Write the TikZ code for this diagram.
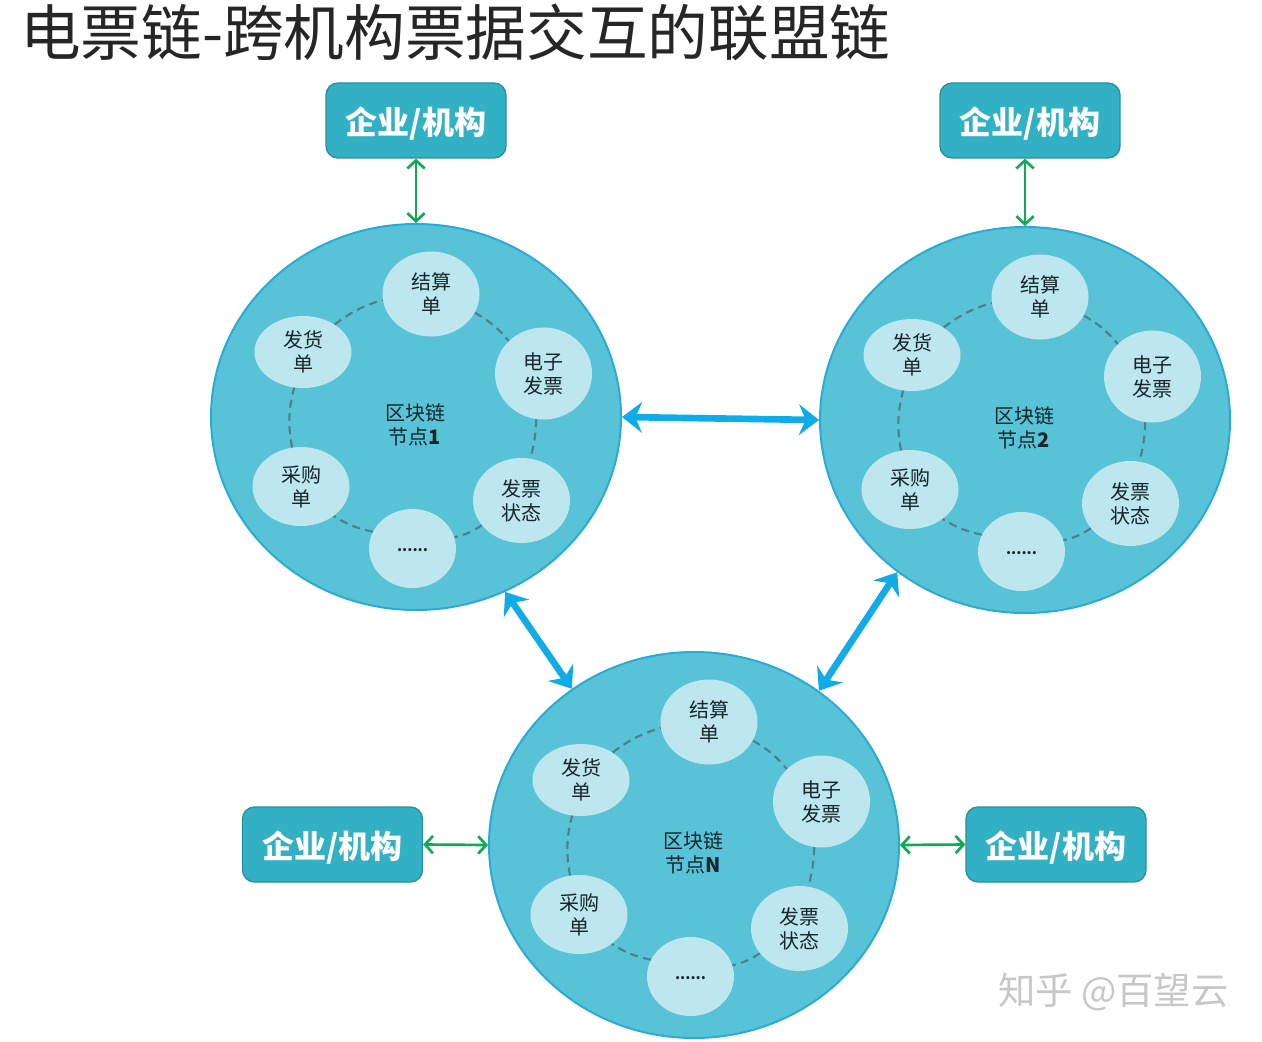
\documentclass[tikz,border=0pt]{standalone}
\usepackage{fontspec}
\setmainfont{Noto Sans CJK SC}
\usetikzlibrary{arrows.meta,shapes.geometric,bending}
\definecolor{ringfill}{HTML}{58C3D6}
\definecolor{ringline}{HTML}{2AABD6}
\definecolor{satfill}{HTML}{BDE6EE}
\definecolor{boxfill}{HTML}{32B1C4}
\definecolor{boxline}{HTML}{2B8E9E}
\definecolor{linkblue}{HTML}{0FACE8}
\definecolor{linkgreen}{HTML}{0FAA55}
\definecolor{dashcol}{HTML}{4E7F8B}
\definecolor{inktext}{HTML}{16262C}
\def\pxu{0.75pt}
\tikzset{
  ringnode/.style={ellipse,draw=ringline,fill=ringfill,line width=1.5pt,inner sep=0pt,minimum width=410*\pxu,minimum height=386*\pxu},
  satbase/.style={ellipse,fill=satfill,inner sep=0pt,align=center,text=inktext,font=\fontsize{15pt}{18pt}\selectfont},
  orgbox/.style={draw=boxline,fill=boxfill,line width=1pt,rounded corners=9pt,minimum width=180*\pxu,minimum height=75*\pxu,inner sep=0pt,text=white,font=\fontsize{24pt}{28pt}\selectfont\bfseries},
  ringdash/.style={draw=dashcol,line width=1.6pt,dash pattern=on 6pt off 4pt,bend left=#1},
  ringdash/.default=10,
  netlink/.style={draw=linkblue,line width=5pt,{Stealth[length=15pt,width=23pt,inset=5pt]}-{Stealth[length=15pt,width=23pt,inset=5pt]}},
  orglink/.style={draw=linkgreen,line width=2pt,{Straight Barb[length=6pt,width=13pt]}-{Straight Barb[length=6pt,width=13pt]}},
  corelabel/.style={align=center,text=inktext,font=\fontsize{15pt}{18pt}\selectfont}
}
\newcommand{\orgtext}{\raisebox{-10.6pt}[0pt][0pt]{企业/机构}}
% #1 prefix, #2 x, #3 y, #4 label
\newcommand{\chainnode}[4]{%
  \node[ringnode] (#1) at (#2,#3) {};
  \node[satbase,minimum width=97*\pxu,minimum height=85*\pxu] (#1a) at (#2+15,#3-123) {结算\\单};
  \node[satbase,minimum width=97*\pxu,minimum height=92*\pxu] (#1b) at (#2+127.5,#3-43.5) {电子\\发票};
  \node[satbase,minimum width=97*\pxu,minimum height=85*\pxu] (#1c) at (#2+105.5,#3+83.5) {发票\\状态};
  \node[satbase,minimum width=87*\pxu,minimum height=79*\pxu] (#1d) at (#2-3.5,#3+131.5) {\raisebox{-2.5pt}[0pt][0pt]{\fontsize{11pt}{13pt}\selectfont\textbf{......}}};
  \node[satbase,minimum width=97*\pxu,minimum height=79*\pxu] (#1e) at (#2-115,#3+69.5) {采购\\单};
  \node[satbase,minimum width=97*\pxu,minimum height=72*\pxu] (#1f) at (#2-113,#3-65) {发货\\单};
  \node[corelabel] (#1t) at (#2-1,#3+8) {区块链\\节点\textbf{#4}};
  \draw[ringdash] (#1a.-23) to (#1b.137);
  \draw[ringdash=6] (#1b.-99) to (#1c.78);
  \draw[ringdash] (#1c.-148) to (#1d.15);
  \draw[ringdash] (#1d.157) to (#1e.-42);
  \draw[ringdash=12] (#1e.103) to (#1f.-104);
  \draw[ringdash] (#1f.41) to (#1a.-173);
}
\begin{document}
\begin{tikzpicture}[x=0.75pt,y=-0.75pt]
\useasboundingbox (0,0) rectangle (1262,1041);
\node[anchor=west,inner sep=0pt,text=black!85,font=\fontsize{45.5pt}{52pt}\selectfont] (title) at (20,32) {电票链-跨机构票据交互的联盟链};
\chainnode{na}{416}{417}{1}
\chainnode{nb}{1025}{420}{2}
\chainnode{nc}{694}{845}{N}
\node[orgbox] (boxa) at (416,120.5) {\orgtext};
\node[orgbox] (boxb) at (1030,120.5) {\orgtext};
\node[orgbox] (boxc) at (332.5,844.5) {\orgtext};
\node[orgbox] (boxd) at (1056,844.5) {\orgtext};
\draw[orglink] (boxa.south) -- (na.north);
\draw[orglink] (nb.north |- boxb.south) -- (nb.north);
\draw[orglink] (boxc.east) -- (nc.west);
\draw[orglink] (nc.east) -- (boxd.west);
\draw[netlink] (na.east) -- (nb.west);
\draw[netlink] (na.-63) -- (nc.128);
\draw[netlink] (nb.-130) -- (nc.51);
\node[anchor=west,inner sep=0pt,text=black!22,font=\fontsize{28pt}{32pt}\selectfont] (mark) at (998,992) {知乎 @百望云};
\end{tikzpicture}
\end{document}
